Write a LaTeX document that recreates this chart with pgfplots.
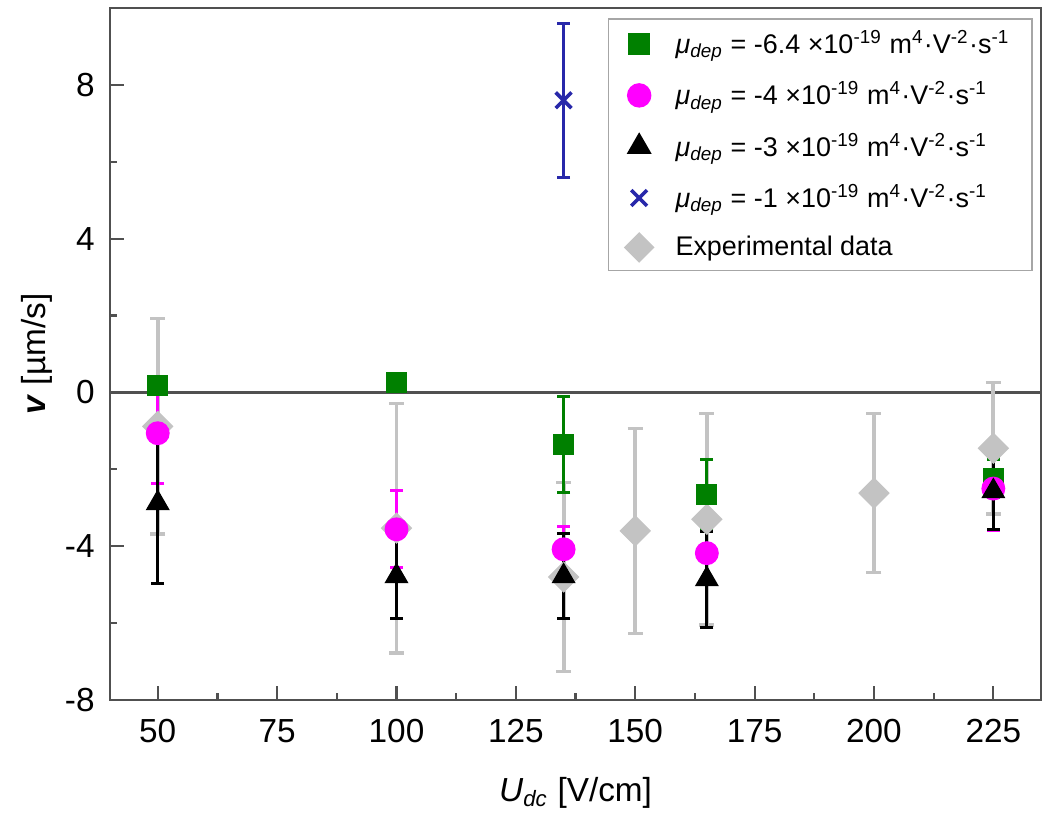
\documentclass[border=0pt]{standalone}
\usepackage{fontspec}
\setmainfont{Liberation Sans}
\usepackage{pgfplots}
\pgfplotsset{compat=1.18}
\usepackage{pgfplotstable}

\definecolor{cgreen}{RGB}{0,128,0}
\definecolor{cmag}{RGB}{255,0,255}
\definecolor{cblue}{RGB}{40,40,170}
\definecolor{cgray}{RGB}{195,195,195}
\definecolor{caxis}{RGB}{80,80,80}

\newcommand{\mud}{\textit{μ}\textsubscript{\textit{dep}}}
\newcommand{\unitsq}{m\textsuperscript{4}·V\textsuperscript{-2}·s\textsuperscript{-1}}
\newcommand{\lent}[1]{\hspace{6pt}#1\hspace{-6pt}}

% experimental data
\pgfplotstableread{
x y e
50 -0.88 2.80
100 -3.53 3.25
135 -4.80 2.45
150 -3.60 2.67
165 -3.30 2.75
200 -2.62 2.07
225 -1.45 1.71
}\expdata
% mu = -6.4
\pgfplotstableread{
x y e
50 0.18 0.10
100 0.26 0.10
135 -1.35 1.25
165 -2.65 0.90
225 -2.23 0.50
}\greendata
% mu = -4
\pgfplotstableread{
x y e
50 -1.06 1.30
100 -3.56 1.00
135 -4.08 0.60
165 -4.18 0.80
225 -2.50 1.10
}\magdata
% mu = -3
\pgfplotstableread{
x y e
50 -2.88 2.10
100 -4.78 1.10
135 -4.78 1.10
165 -4.86 1.25
225 -2.57 1.00
}\blackdata
% mu = -1
\pgfplotstableread{
x y e
135 7.60 2.00
}\bluedata

\begin{document}
\begin{tikzpicture}
\begin{axis}[
    name=ax,
    scale only axis,
    width=335.2pt, height=249.1pt,
    xmin=40, xmax=235, ymin=-8, ymax=10,
    xtick={50,75,...,225}, ytick={-8,-4,0,4,8},
    minor xtick={62.5,87.5,...,212.5}, minor ytick={-6,-2,2,6},
    tick align=inside, xtick pos=bottom, ytick pos=left,
    major tick length=5pt, minor tick length=2.5pt,
    axis line style={caxis, line width=1pt},
    every tick/.style={caxis, line width=0.8pt},
    /pgf/number format/assume math mode=true,
    tick label style={font=\fontsize{12}{14}\selectfont},
    xticklabel style={yshift=-3.5pt},
    yticklabel style={xshift=-2pt},
    label style={font=\fontsize{12}{14}\selectfont},
    xlabel={\textit{U}\textsubscript{\textit{dc}} [V/cm]},
    ylabel={\textbf{\textit{v}} [µm/s]},
    xlabel style={yshift=-5.5pt},
    ylabel style={yshift=-2.5pt},
    legend style={at={(0.991,0.985)}, anchor=north east,
        font=\fontsize{9.7}{11.6}\selectfont, draw=gray!70, line width=0.6pt,
        row sep=4.6pt, inner xsep=6pt, inner ysep=2pt},
    legend cell align=left,
    error bars/y dir=both, error bars/y explicit,
]
\addplot[forget plot, caxis, line width=1pt] coordinates {(40,0) (235,0)};

\addplot[forget plot, only marks, mark=square*, mark size=3.8pt, color=cgray,
    mark options={rotate=45, fill=cgray},
    error bars/error bar style={line width=1.4pt, cgray},
    error bars/error mark options={rotate=90, mark size=2.7pt, line width=1.2pt, cgray}]
    table[x=x, y=y, y error=e] {\expdata};

\addplot[only marks, mark=square*, mark size=3.6pt, color=cgreen,
    mark options={fill=cgreen},
    error bars/error bar style={line width=1.1pt, cgreen},
    error bars/error mark options={rotate=90, mark size=2.3pt, line width=1.1pt, cgreen}]
    table[x=x, y=y, y error=e] {\greendata};
\addlegendentry{\lent{\mud{} = -6.4 ×10\textsuperscript{-19} \unitsq}}

\addplot[only marks, mark=*, mark size=4.1pt, color=cmag,
    mark options={fill=cmag},
    error bars/error bar style={line width=1.1pt, cmag},
    error bars/error mark options={rotate=90, mark size=2.3pt, line width=1.1pt, cmag}]
    table[x=x, y=y, y error=e] {\magdata};
\addlegendentry{\lent{\mud{} = -4 ×10\textsuperscript{-19} \unitsq}}

\addplot[only marks, mark=triangle*, mark size=4.6pt, color=black,
    mark options={fill=black},
    error bars/error bar style={line width=1.1pt, black},
    error bars/error mark options={rotate=90, mark size=2.3pt, line width=1.1pt, black}]
    table[x=x, y=y, y error=e] {\blackdata};
\addlegendentry{\lent{\mud{} = -3 ×10\textsuperscript{-19} \unitsq}}

\addplot[only marks, mark=x, mark size=4pt, color=cblue,
    mark options={line width=1.3pt},
    error bars/error bar style={line width=1.1pt, cblue},
    error bars/error mark options={rotate=90, mark size=2.3pt, line width=1.1pt, cblue}]
    table[x=x, y=y, y error=e] {\bluedata};
\addlegendentry{\lent{\mud{} = -1 ×10\textsuperscript{-19} \unitsq}}

\addlegendimage{only marks, mark=square*, mark size=3.6pt, color=cgray,
    mark options={rotate=45, fill=cgray}}
\addlegendentry{\lent{Experimental data}}
\end{axis}
\path (ax.south west) ++(-39.6pt,-42.5pt) rectangle ([shift={(3.2pt,2.9pt)}]ax.north east);
\end{tikzpicture}
\end{document}
